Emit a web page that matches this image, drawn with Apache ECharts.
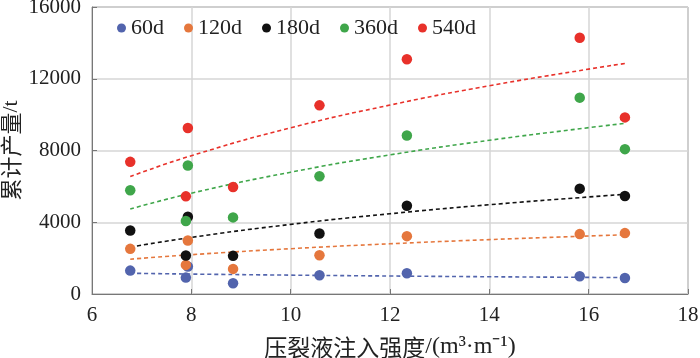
<!DOCTYPE html>
<html>
<head>
<meta charset="utf-8">
<script src="https://cdn.jsdelivr.net/npm/echarts@6/dist/echarts.min.js"></script>
<style>
html, body { margin: 0; padding: 0; background: #fff; }
#main { width: 700px; height: 358px; }
</style>
</head>
<body>
<div id="main"></div>
<script>
// 压裂液注入强度 (每口井)
var wellX = [6.77, 7.93, 7.89, 8.84, 10.58, 12.34, 15.82, 16.73];
// 累计产量 (t)
var d60  = [1305, 1529, 914, 597, 1044, 1156, 988, 895];
var d120 = [2517, 2983, 1622, 1399, 2163, 3226, 3338, 3394];
var d180 = [3543, 4308, 2144, 2126, 3375, 4923, 5874, 5464];
var d360 = [5781, 7161, 4066, 4270, 6564, 8839, 10946, 8075];
var d540 = [7366, 9250, 5443, 5968, 10517, 13091, 14284, 9846];

// 趋势线
var trendX = [6.77, 8, 10, 12, 14, 16, 16.73];
var t60  = [1156, 1111, 1052, 1003, 962, 926, 914];
var t120 = [1940, 2191, 2526, 2800, 3032, 3233, 3300];
var t180 = [2611, 3155, 3881, 4474, 4976, 5410, 5557];
var t360 = [4738, 5619, 6790, 7756, 8569, 9273, 9510];
var t540 = [6545, 7709, 9263, 10533, 11607, 12537, 12850];

var names = ['60d', '120d', '180d', '360d', '540d'];
var colors = ['#5264ad', '#e5773d', '#111111', '#3fa64a', '#e8312a'];
var points = [d60, d120, d180, d360, d540];
var trends = [t60, t120, t180, t360, t540];

function pairs(xs, ys) {
	return xs.map(function(x, i) { return [x, ys[i]]; });
}

var series = [];
for (var i = 0; i < names.length; i++) {
	series.push({
		name: names[i] + '趋势',
		type: 'line',
		data: pairs(trendX, trends[i]),
		smooth: true,
		showSymbol: false,
		silent: true,
		z: 1,
		lineStyle: { color: colors[i], width: 1.6, type: [4, 3] }
	});
}
for (var j = 0; j < names.length; j++) {
	series.push({
		name: names[j],
		type: 'scatter',
		data: pairs(wellX, points[j]),
		symbolSize: 10.5,
		z: 3,
		itemStyle: { color: colors[j], opacity: 1 }
	});
}

var cjk = 'Noto Sans CJK SC';
var serif = 'Liberation Serif';

var myChart = echarts.init(document.getElementById('main'));
var option = {
	animation: false,
	backgroundColor: '#fff',
	grid: {
		left: 92, right: 12, top: 7, bottom: 64,
		outerBoundsMode: 'none',
		show: true, borderColor: '#777', borderWidth: 1
	},
	legend: {
		data: names,
		left: 112,
		top: 12,
		itemWidth: 9,
		itemHeight: 9,
		itemGap: 20,
		icon: 'circle',
		textStyle: { fontFamily: serif, fontSize: 22, color: '#222' }
	},
	xAxis: {
		type: 'value',
		min: 6,
		max: 18,
		interval: 2,
		name: '{a|压裂液注入强度}{b|/(m³·m⁻¹)}',
		nameLocation: 'middle',
		nameGap: 41,
		nameMoveOverlap: false,
		nameTextStyle: {
			rich: {
				a: { fontFamily: cjk, fontSize: 23, color: '#222' },
				b: { fontFamily: serif, fontSize: 24, color: '#222' }
			}
		},
		axisLine: { lineStyle: { color: '#777' } },
		axisTick: { show: true, inside: true, length: 5, lineStyle: { color: '#777' } },
		axisLabel: { fontFamily: serif, fontSize: 21, color: '#222', margin: 11 },
		splitLine: { show: true, lineStyle: { color: '#d6d6d6', width: 1.5 } }
	},
	yAxis: {
		type: 'value',
		min: 0,
		max: 16000,
		interval: 4000,
		name: '{a|累计产量}{b|/t}',
		nameLocation: 'middle',
		nameGap: 70,
		nameMoveOverlap: false,
		nameTextStyle: {
			rich: {
				a: { fontFamily: cjk, fontSize: 22, color: '#222' },
				b: { fontFamily: serif, fontSize: 22, color: '#222' }
			}
		},
		axisLine: { show: true, lineStyle: { color: '#777' } },
		axisTick: { show: true, inside: true, length: 5, lineStyle: { color: '#777' } },
		axisLabel: {
			fontFamily: serif, fontSize: 21, color: '#222', margin: 11,
			formatter: function(v) { return String(v); }
		},
		splitLine: { show: true, lineStyle: { color: '#d6d6d6', width: 1.5 } }
	},
	series: series
};
myChart.setOption(option);
</script>
</body>
</html>
